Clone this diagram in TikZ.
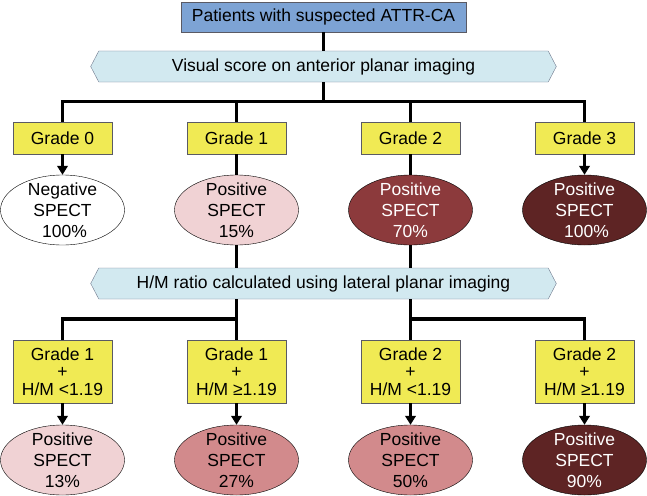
\documentclass[tikz,border=0pt]{standalone}
\usepackage{fontspec}
\setmainfont{Liberation Sans}
\usetikzlibrary{shapes.geometric,shapes.symbols,arrows.meta}
\definecolor{colTop}{RGB}{125,163,212}
\definecolor{colBanner}{RGB}{210,233,240}
\definecolor{colBannerFrame}{RGB}{110,120,140}
\definecolor{colGrade}{RGB}{240,234,84}
\definecolor{colFrame}{RGB}{90,90,100}
\definecolor{colPale}{RGB}{240,210,212}
\definecolor{colMid}{RGB}{210,138,140}
\definecolor{colDark}{RGB}{140,58,60}
\definecolor{colDeep}{RGB}{94,36,36}
\tikzstyle{txt}=[font=\fontsize{17.5}{21}\selectfont, align=center]
\tikzstyle{topbox}=[txt, draw=colFrame, fill=colTop, minimum width=285.6pt, minimum height=30pt, inner sep=0pt]
\tikzstyle{banner}=[txt, signal, signal to=west and east, signal pointer angle=125, draw=colBannerFrame, fill=colBanner, minimum width=465.6pt, minimum height=31pt, inner sep=0pt]
\tikzstyle{gradebox}=[txt, draw=colFrame, fill=colGrade, minimum width=99pt, minimum height=32pt, inner sep=0pt]
\tikzstyle{hmbox}=[gradebox, font=\fontsize{17.5}{17.5}\selectfont, minimum height=63pt]
\tikzstyle{spect}=[txt, ellipse, draw=black, inner sep=-4pt, minimum width=124pt, minimum height=70pt]
\tikzstyle{conn}=[line width=3.2pt, black]
\tikzstyle{arr}=[conn, -{Triangle[length=9pt,width=10.5pt]}]
\begin{document}
\begin{tikzpicture}[x=1pt, y=-1pt]
	\useasboundingbox (0,0) rectangle (647,495);

	%%% Top part
	\node[topbox]  (top) at (323.5, 17.0) {Patients with suspected ATTR-CA};
	\node[banner]  (vis) at (323.5, 66.5) {Visual score on anterior planar imaging};
	\coordinate (split1) at (323.5, 101.5);

	\node[gradebox] (g0) at ( 62.5, 138.0) {Grade 0};
	\node[gradebox] (g1) at (236.5, 138.0) {Grade 1};
	\node[gradebox] (g2) at (410.5, 138.0) {Grade 2};
	\node[gradebox] (g3) at (584.5, 138.0) {Grade 3};

	\node[spect]                           (r0) at ( 62.5, 210.0) {Negative\\SPECT\\\hspace{4pt}100\%};
	\node[spect, fill=colPale]             (r1) at (236.5, 210.0) {Positive\\SPECT\\15\%};
	\node[spect, fill=colDark, text=white] (r2) at (410.5, 210.0) {Positive\\SPECT\\70\%};
	\node[spect, fill=colDeep, text=white] (r3) at (584.5, 210.0) {Positive\\SPECT\\\hspace{4pt}100\%};

	% Tree
	\draw[conn] (top.south) -- (vis.north);
	\draw[conn] (vis.south) -- (split1);
	\draw[conn] (g0.north) |- (split1) -| (g3.north);
	\draw[conn] (g1.north) -- (g1.north |- split1);
	\draw[conn] (g2.north) -- (g2.north |- split1);
	% Results
	\draw[arr] (g0.south) -- (r0.north);
	\draw[arr] (g3.south) -- (r3.north);
	\draw[conn] (g1.south) -- (r1.north);
	\draw[conn] (g2.south) -- (r2.north);

	%%% Bottom part
	\node[banner]  (hm) at (323.5, 283.5) {H/M ratio calculated using lateral planar imaging};
	\coordinate (split2) at (236.5, 319.0);
	\coordinate (split3) at (410.5, 319.0);

	\node[hmbox] (b1) at ( 62.5, 371.3) {Grade 1\\+\\H/M <1.19};
	\node[hmbox] (b2) at (236.5, 371.3) {Grade 1\\+\\H/M ≥1.19};
	\node[hmbox] (b3) at (410.5, 371.3) {Grade 2\\+\\H/M <1.19};
	\node[hmbox] (b4) at (584.5, 371.3) {Grade 2\\+\\H/M ≥1.19};

	\node[spect, fill=colPale]             (s1) at ( 62.5, 460.0) {Positive\\SPECT\\13\%};
	\node[spect, fill=colMid]              (s2) at (236.5, 460.0) {Positive\\SPECT\\27\%};
	\node[spect, fill=colMid]              (s3) at (410.5, 460.0) {Positive\\SPECT\\50\%};
	\node[spect, fill=colDeep, text=white] (s4) at (584.5, 460.0) {Positive\\SPECT\\90\%};

	% Bridge from first row
	\draw[conn] (r1.south) -- (r1.south |- hm.north);
	\draw[conn] (r2.south) -- (r2.south |- hm.north);
	% Tree
	\draw[conn] (hm.south -| b2.north) -- (b2.north);
	\draw[conn] (b1.north) |- (split2);
	\draw[conn] (hm.south -| b3.north) -- (b3.north);
	\draw[conn] (b4.north) |- (split3);
	% Results
	\draw[arr] (b1.south) -- (s1.north);
	\draw[arr] (b2.south) -- (s2.north);
	\draw[arr] (b3.south) -- (s3.north);
	\draw[arr] (b4.south) -- (s4.north);
\end{tikzpicture}
\end{document}
